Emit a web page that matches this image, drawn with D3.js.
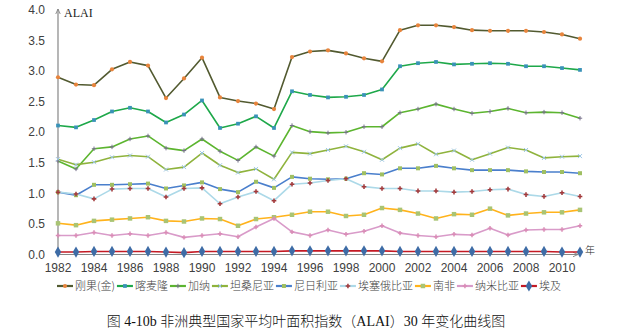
<!DOCTYPE html>
<html><head><meta charset="utf-8">
<script src="https://cdn.jsdelivr.net/npm/d3@7/dist/d3.min.js"></script>
<style>body{margin:0;background:#fff;}svg{display:block;}</style>
</head><body><svg id="c" width="628" height="334"></svg>
<script>
const years = d3.range(1982, 2012);
const yTicks = [0, 0.5, 1.0, 1.5, 2.0, 2.5, 3.0, 3.5, 4.0];
const xTickYears = [1982,1984,1986,1988,1990,1992,1994,1996,1998,2000,2002,2004,2006,2008,2010];
const names = ["刚果(金)","喀麦隆","加纳","坦桑尼亚","尼日利亚","埃塞俄比亚","南非","纳米比亚","埃及"];
const congo = [2.90,2.78,2.77,3.03,3.15,3.09,2.56,2.88,3.22,2.57,2.51,2.47,2.38,3.23,3.32,3.34,3.29,3.21,3.16,3.67,3.75,3.75,3.72,3.67,3.66,3.66,3.66,3.64,3.60,3.53];
const cameroon = [2.11,2.08,2.20,2.34,2.40,2.34,2.16,2.29,2.52,2.07,2.14,2.26,2.07,2.67,2.61,2.57,2.58,2.61,2.70,3.08,3.13,3.15,3.11,3.12,3.13,3.12,3.08,3.08,3.05,3.02];
const ghana = [1.53,1.40,1.73,1.76,1.89,1.94,1.74,1.70,1.89,1.69,1.54,1.76,1.61,2.11,2.01,1.99,2.00,2.09,2.09,2.32,2.38,2.46,2.38,2.31,2.34,2.39,2.32,2.33,2.32,2.23];
const tanzania = [1.56,1.47,1.51,1.59,1.62,1.60,1.39,1.43,1.66,1.46,1.34,1.40,1.23,1.67,1.65,1.71,1.77,1.68,1.55,1.74,1.81,1.64,1.70,1.55,1.65,1.75,1.71,1.58,1.60,1.61];
const nigeria = [1.02,0.97,1.14,1.14,1.15,1.16,1.08,1.13,1.18,1.07,1.02,1.19,1.09,1.27,1.24,1.23,1.24,1.33,1.31,1.41,1.41,1.45,1.41,1.38,1.38,1.38,1.36,1.35,1.35,1.33];
const ethiopia = [1.02,0.99,0.91,1.07,1.08,1.08,0.94,1.08,1.09,0.83,0.94,1.03,0.88,1.15,1.17,1.21,1.24,1.11,1.08,1.08,1.04,1.04,1.02,1.03,1.06,1.07,0.98,0.95,1.01,0.95];
const southAfrica = [0.51,0.48,0.55,0.57,0.59,0.61,0.55,0.54,0.59,0.58,0.47,0.58,0.61,0.65,0.70,0.70,0.63,0.65,0.76,0.73,0.67,0.59,0.66,0.65,0.75,0.64,0.67,0.69,0.69,0.73];
const namibia = [0.31,0.31,0.36,0.31,0.34,0.31,0.36,0.28,0.31,0.34,0.29,0.45,0.59,0.37,0.31,0.40,0.33,0.38,0.47,0.35,0.31,0.29,0.33,0.32,0.43,0.32,0.40,0.41,0.41,0.47];
const egypt = [0.04,0.04,0.05,0.05,0.05,0.05,0.04,0.03,0.05,0.05,0.05,0.05,0.05,0.06,0.06,0.06,0.06,0.06,0.06,0.05,0.05,0.05,0.05,0.05,0.05,0.05,0.05,0.05,0.04,0.04];

const seriesValues = [congo,cameroon,ghana,tanzania,nigeria,ethiopia,southAfrica,namibia,egypt];
const styles = [
  {line:"#525a30", mark:"#e8843c", sym:d3.symbolCircle, size:14},
  {line:"#1ea84a", mark:"#3a92b8", sym:d3.symbolSquare, size:14},
  {line:"#5cb52f", mark:"#77708c", sym:"plus", size:2.2},
  {line:"#8fb33d", mark:"#9cc6e6", sym:"times", size:2},
  {line:"#4a7fcc", mark:"#9fbf62", sym:d3.symbolSquare, size:16},
  {line:"#acd9e8", mark:"#a33a3c", sym:d3.symbolCross, size:12},
  {line:"#ffb31c", mark:"#a9c474", sym:d3.symbolSquare, size:20},
  {line:"#d99bc9", mark:"#d98cb6", sym:d3.symbolCross, size:11},
  {line:"#c41a24", mark:"#3e6ca6", sym:d3.symbolDiamond, size:36}
];

const svg = d3.select("#c");
const x = d3.scaleLinear().domain([1982, 2011]).range([58, 580]);
const y = d3.scaleLinear().domain([0, 4]).range([254.5, 10]);
const axisColor = "#868686";

svg.append("g").selectAll("text").data(yTicks).join("text")
  .attr("x", 45).attr("y", d => y(d)).attr("dy", "0.35em")
  .attr("text-anchor", "end").attr("font-family", "Liberation Sans, Arial, sans-serif")
  .attr("font-size", 12).attr("fill", "#404040").text(d => d.toFixed(1));

svg.append("g").selectAll("text").data(xTickYears).join("text")
  .attr("x", d => x(d)).attr("y", 272)
  .attr("text-anchor", "middle").attr("font-family", "Liberation Sans, Arial, sans-serif")
  .attr("font-size", 12).attr("fill", "#404040").text(d => d);

const defs = svg.append("defs");
defs.append("marker").attr("id","arr").attr("viewBox","0 0 10 10").attr("refX",9).attr("refY",5)
  .attr("markerWidth",5).attr("markerHeight",5).attr("orient","auto")
  .append("path").attr("d","M0,1 L9,5 L0,9").attr("fill","none").attr("stroke",axisColor).attr("stroke-width",1.5);
svg.append("line").attr("x1", x(1982)).attr("x2", x(1982)).attr("y1", y(0)).attr("y2", 9)
  .attr("stroke", axisColor).attr("stroke-width", 1.2).attr("marker-end","url(#arr)");
svg.append("line").attr("x1", x(1982)).attr("x2", 578).attr("y1", y(0)).attr("y2", y(0))
  .attr("stroke", axisColor).attr("stroke-width", 1.2).attr("marker-end","url(#arr)");
svg.append("text").attr("x", 64).attr("y", 17).attr("font-family","Liberation Serif, serif")
  .attr("font-size", 12).attr("fill","#222").text("ALAI");
svg.append("text").attr("x", 585).attr("y", 254).attr("font-family","Noto Sans CJK SC, sans-serif")
  .attr("font-size", 10).attr("font-weight", 300).attr("fill","#222").text("年");

function drawMarker(g, st, cx, cy) {
  if (st.sym === "plus") {
    const s = st.size;
    g.append("path").attr("d", `M${cx-s},${cy}H${cx+s}M${cx},${cy-s}V${cy+s}`)
      .attr("stroke", st.mark).attr("stroke-width", 1);
  } else if (st.sym === "times") {
    const s = st.size;
    g.append("path").attr("d", `M${cx-s},${cy-s}L${cx+s},${cy+s}M${cx-s},${cy+s}L${cx+s},${cy-s}`)
      .attr("stroke", st.mark).attr("stroke-width", 1);
  } else {
    g.append("path").attr("d", d3.symbol().type(st.sym).size(st.size)())
      .attr("transform", `translate(${cx},${cy})`).attr("fill", st.mark);
  }
}

const line = d3.line().x((d,i) => x(years[i])).y(d => y(d));
seriesValues.forEach((vals, k) => {
  const st = styles[k];
  const g = svg.append("g");
  g.append("path").datum(vals).attr("d", line).attr("fill","none")
    .attr("stroke", st.line).attr("stroke-width", 1.6).attr("stroke-linejoin","round");
  vals.forEach((v,i) => drawMarker(g, st, x(years[i]), y(v)));
});

const lg = svg.append("g");
let cx = 57;
const ly = 286;
names.forEach((n, k) => {
  const st = styles[k];
  lg.append("line").attr("x1", cx).attr("x2", cx+16).attr("y1", ly).attr("y2", ly)
    .attr("stroke", st.line).attr("stroke-width", 2.2);
  drawMarker(lg, st, cx+8, ly);
  const t = lg.append("text").attr("x", cx+18).attr("y", ly).attr("dy","0.36em")
    .attr("font-family","Noto Sans CJK SC, sans-serif").attr("font-size", 11).attr("font-weight", 300)
    .attr("fill","#404040").text(n);
  cx += 18 + t.node().getComputedTextLength() + 2;
});

svg.append("text").attr("x", 306).attr("y", 326).attr("text-anchor","middle")
  .attr("font-family","Liberation Serif, Noto Sans CJK SC, serif").attr("font-size", 14).attr("font-weight", 300)
  .attr("fill","#111").text("图 4-10b 非洲典型国家平均叶面积指数（ALAI）30 年变化曲线图");
</script></body></html>
